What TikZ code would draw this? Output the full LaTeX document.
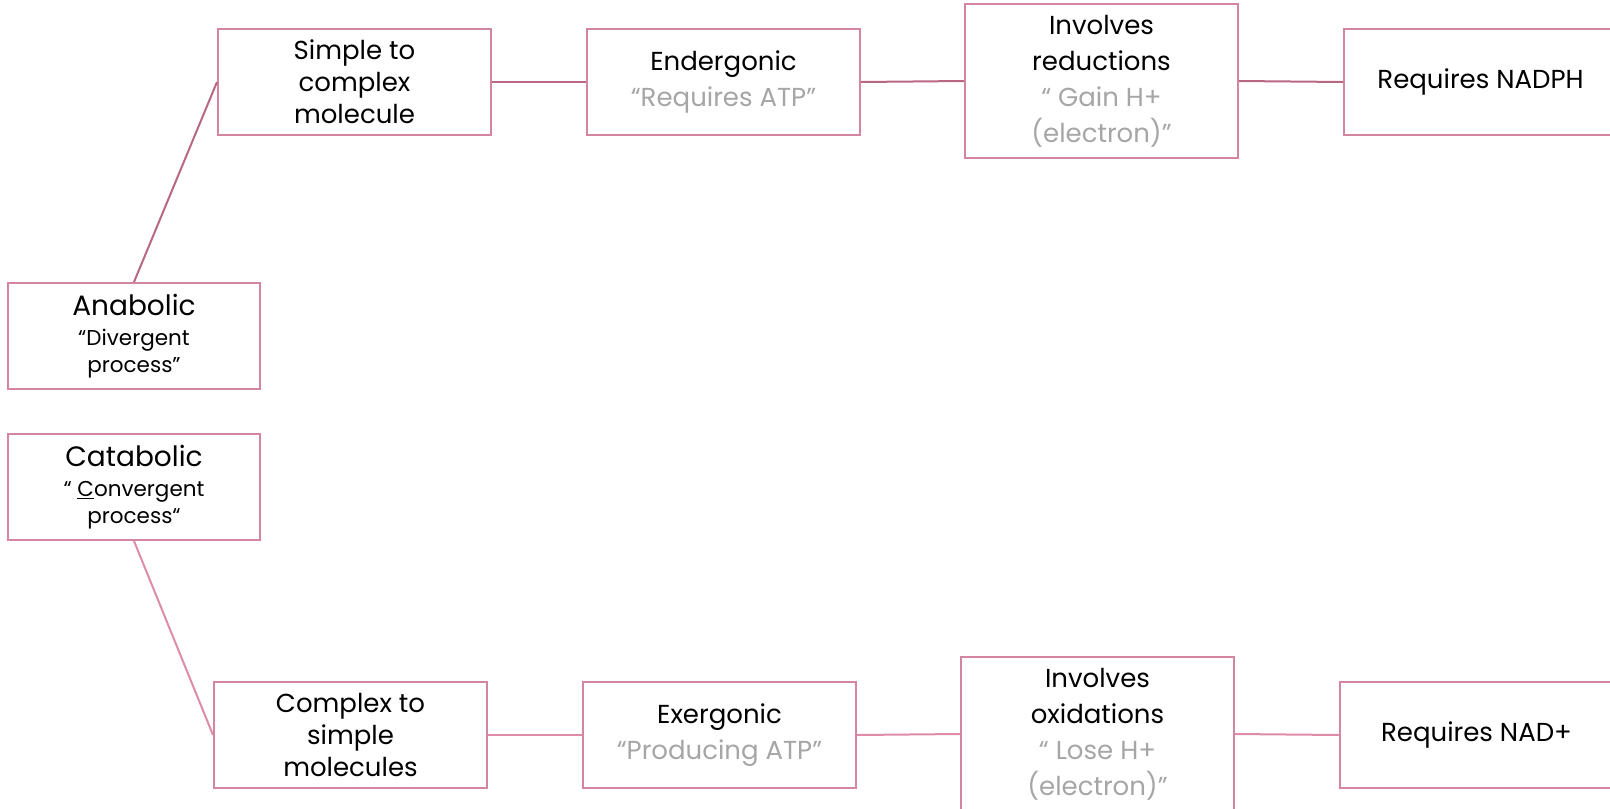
\documentclass[tikz,border=0pt]{standalone}
\usepackage{fontspec}
\setmainfont{Poppins}
\usetikzlibrary{calc}
\definecolor{boxpink}{RGB}{212,134,158}
\definecolor{linkdark}{RGB}{184,104,130}
\definecolor{linklight}{RGB}{222,140,168}
\definecolor{softgray}{RGB}{166,166,166}
\tikzset{
  box/.style={draw=boxpink, line width=2pt, minimum width=273pt, minimum height=106pt, align=center, inner sep=0pt, font=\fontsize{26}{32}\selectfont},
  tallbox/.style={box, minimum height=154pt, font=\fontsize{26}{36}\selectfont},
  sidebox/.style={box, minimum width=252pt},
  toplink/.style={draw=linkdark, line width=2pt},
  lowlink/.style={draw=linklight, line width=2pt}
}
\newcommand{\gr}[1]{\textcolor{softgray}{#1}}
\newcommand{\sm}{\fontsize{21.5}{27}\selectfont}
\begin{document}
\begin{tikzpicture}[x=1pt,y=-1pt]
			%%%%% START %%%%%
			\useasboundingbox[fill=white] (0,0) rectangle (1610,809);
			
			\node[sidebox, font=\fontsize{28}{32}\selectfont] (ana) at (134,336) {Anabolic\\[-2pt]{\sm ``Divergent}\\[-5pt]{\sm process''}};
			\node[sidebox, font=\fontsize{28}{32}\selectfont] (cata) at (134,487) {Catabolic\\[-2pt]{\sm `` \underline{C}onvergent}\\[-5pt]{\sm process``}};
			
			\node[box] (simple) at (354.5,82) {Simple to\\complex\\molecule};
			\node[box, font=\fontsize{26}{36}\selectfont] (ender) at (723.5,82) {Endergonic\\\gr{``Requires ATP''}};
			\node[tallbox] (redu) at (1101.5,81) {Involves\\reductions\\\gr{`` Gain H+}\\\gr{(electron)''}};
			\node[box] (nadph) at (1480.5,82) {Requires NADPH};
			
			\node[box] (cplx) at (350.5,735) {Complex to\\simple\\molecules};
			\node[box, font=\fontsize{26}{36}\selectfont] (exer) at (719.5,735) {Exergonic\\\gr{``Producing ATP''}};
			\node[tallbox] (oxi) at (1097.5,734) {Involves\\oxidations\\\gr{`` Lose H+}\\\gr{(electron)''}};
			\node[box] (nad) at (1476.5,735) {Requires NAD+};
			
			\draw[toplink] (ana.north) -- (simple.west);
			\draw[toplink] (simple.east) -- (ender.west);
			\draw[toplink] (ender.east) -- (redu.west);
			\draw[toplink] (redu.east) -- (nadph.west);
			
			\draw[lowlink] (cata.south) -- (cplx.west);
			\draw[lowlink] (cplx.east) -- (exer.west);
			\draw[lowlink] (exer.east) -- (oxi.west);
			\draw[lowlink] (oxi.east) -- (nad.west);
			%%%%% END %%%%%
\end{tikzpicture}
\end{document}
